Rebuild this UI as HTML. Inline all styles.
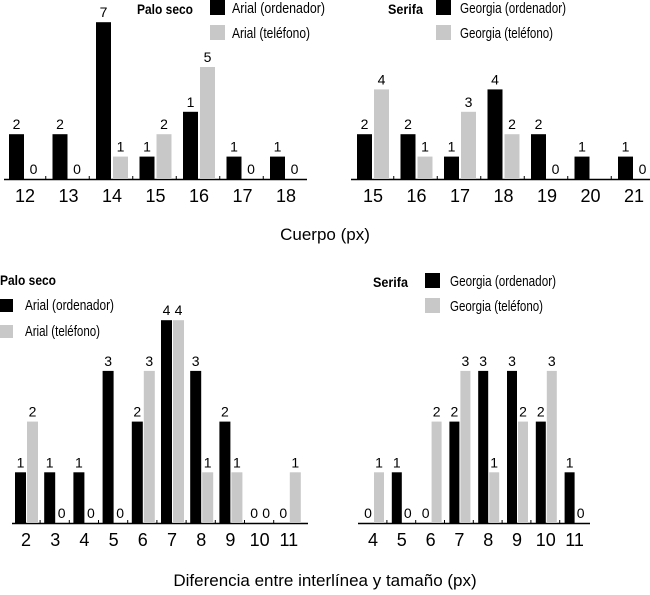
<!DOCTYPE html>
<html><head><meta charset="utf-8">
<style>
body{margin:0;background:#fff;}
svg{display:block;font-family:"Liberation Sans Narrow","Liberation Sans",sans-serif;}
</style></head>
<body>
<svg id="c" width="650" height="595" xmlns="http://www.w3.org/2000/svg"></svg>
<script>
// Panel A: Palo seco, body size
const catsA = ["12","13","14","15","16","17","18"];
const blackA = [2,2,7,1,3,1,1];
const blackLblA = ["2","2","7","1","1","1","1"];
const grayA = [0,0,1,2,5,0,0];
const grayLblA = ["0","0","1","2","5","0","0"];
// Panel B: Serifa, body size
const catsB = ["15","16","17","18","19","20","21"];
const blackB = [2,2,1,4,2,1,1];
const blackLblB = ["2","2","1","4","2","1","1"];
const grayB = [4,1,3,2,0,0,0];
const grayLblB = ["4","1","3","2","0","","0"];
// Panel C: Palo seco, leading difference
const catsC = ["2","3","4","5","6","7","8","9","10","11"];
const blackC = [1,1,1,3,2,4,3,2,0,0];
const blackLblC = ["1","1","1","3","2","4","3","2","0","0"];
const grayC = [2,0,0,0,3,4,1,1,0,1];
const grayLblC = ["2","0","0","0","3","4","1","1","0","1"];
// Panel D: Serifa, leading difference
const catsD = ["4","5","6","7","8","9","10","11"];
const blackD = [0,1,0,2,3,3,2,1];
const blackLblD = ["0","1","0","2","3","3","2","1"];
const grayD = [1,0,2,3,1,2,3,0];
const grayLblD = ["1","0","2","3","1","2","3","0"];

const svg = document.getElementById('c');
const NS = "http://www.w3.org/2000/svg";
function mk(tag, attrs, parent){
  const e = document.createElementNS(NS, tag);
  for (const k in attrs) e.setAttribute(k, attrs[k]);
  (parent||svg).appendChild(e);
  return e;
}
function txt(x,y,s,size,anchor,weight,parent,len){
  const a = {x:x,y:y,'font-size':size,'text-anchor':anchor||'middle','font-weight':weight||'normal',fill:'#000'};
  if (len){ a.textLength = len; a.lengthAdjust = 'spacingAndGlyphs'; }
  const t = mk('text',a,parent);
  t.textContent = s;
  return t;
}

function panel(cfg){
  const g = mk('g',{});
  
  
  const yS = v => cfg.base - v*cfg.unit;
  const xB = i => cfg.x0 + i*cfg.step;
  const ax = mk('line',{x1:cfg.ax0,x2:cfg.ax1,y1:cfg.base+0.5,y2:cfg.base+0.5,stroke:'#000','stroke-width':1.5},g);
  
  
  cfg.cats.forEach((c,i)=>{
    const bx = xB(i);
    const rb = mk('rect',{x:bx,y:yS(cfg.black[i]),width:cfg.bw,height:cfg.black[i]*cfg.unit,fill:'#000'},g);
    
    
    const gx = bx + cfg.goff;
    const rg = mk('rect',{x:gx,y:yS(cfg.gray[i]),width:cfg.bw,height:cfg.gray[i]*cfg.unit,fill:'#c8c8c8'},g);
    
    
    const l1 = txt(bx+cfg.bw/2, yS(cfg.black[i])-5, cfg.blackLbl[i], 14, 'middle','normal',g);
    
    
    const l2 = txt(gx+cfg.bw/2, yS(cfg.gray[i])-5, cfg.grayLbl[i], 14, 'middle','normal',g);
    
    
    const tl = txt(bx+cfg.goff-1, cfg.base+23, c, 18, 'middle','normal',g);
    
    
    if (i>0){
      const tx = bx - (cfg.step - cfg.goff - cfg.bw)/2 - 1;
      const tk = mk('line',{x1:tx,x2:tx,y1:cfg.base-3,y2:cfg.base,stroke:'#000','stroke-width':1},g);
      
      
    }
  });
  const L = cfg.leg;
  const t0 = txt(L.tx, L.ty, L.title, 14, 'start', 'bold', g, L.tl);
  
  
  const s1 = mk('rect',{x:L.sx,y:L.sy,width:L.sw,height:L.sw,fill:'#000'},g);
  
  
  const e1 = txt(L.lx, L.sy+L.sw-2, L.n1, 15, 'start','normal',g,L.l1);
  
  
  const s2 = mk('rect',{x:L.sx,y:L.sy+L.dy,width:L.sw,height:L.sw,fill:'#c8c8c8'},g);
  
  
  const e2 = txt(L.lx, L.sy+L.dy+L.sw-2, L.n2, 15, 'start','normal',g,L.l2);
  
  
}

panel({name:'chart-sans-body-size',cats:catsA,black:blackA,blackLbl:blackLblA,gray:grayA,grayLbl:grayLblA,
  x0:9,step:43.5,bw:15,goff:17,base:179,unit:22.4,ax0:4,ax1:307,
  leg:{title:'Palo seco',tx:137,ty:14,tl:56,sx:210,sy:0,sw:15,dy:25,lx:232,n1:'Arial (ordenador)',n2:'Arial (teléfono)',l1:93,l2:78}});
panel({name:'chart-serif-body-size',cats:catsB,black:blackB,blackLbl:blackLblB,gray:grayB,grayLbl:grayLblB,
  x0:357,step:43.5,bw:15,goff:17,base:179,unit:22.4,ax0:351,ax1:650,
  leg:{title:'Serifa',tx:388,ty:14,tl:35,sx:436,sy:0,sw:15,dy:25,lx:460,n1:'Georgia (ordenador)',n2:'Georgia (teléfono)',l1:106,l2:93}});
panel({name:'chart-sans-leading',cats:catsC,black:blackC,blackLbl:blackLblC,gray:grayC,grayLbl:grayLblC,
  x0:15,step:29.2,bw:11,goff:12,base:523,unit:50.7,ax0:12,ax1:308,
  leg:{title:'Palo seco',tx:0,ty:285,tl:56,sx:0,sy:299,sw:13,dy:26,lx:25,n1:'Arial (ordenador)',n2:'Arial (teléfono)',l1:89,l2:75}});
panel({name:'chart-serif-leading',cats:catsD,black:blackD,blackLbl:blackLblD,gray:grayD,grayLbl:grayLblD,
  x0:363,step:28.8,bw:10,goff:11,base:523,unit:50.7,ax0:358,ax1:590,
  leg:{title:'Serifa',tx:373,ty:287,tl:35,sx:425,sy:273,sw:15,dy:25,lx:450,n1:'Georgia (ordenador)',n2:'Georgia (teléfono)',l1:106,l2:93}});

const xt1 = txt(325, 240, 'Cuerpo (px)', 17);


const xt2 = txt(325, 586, 'Diferencia entre interlínea y tamaño (px)', 17);


</script>
</body></html>
